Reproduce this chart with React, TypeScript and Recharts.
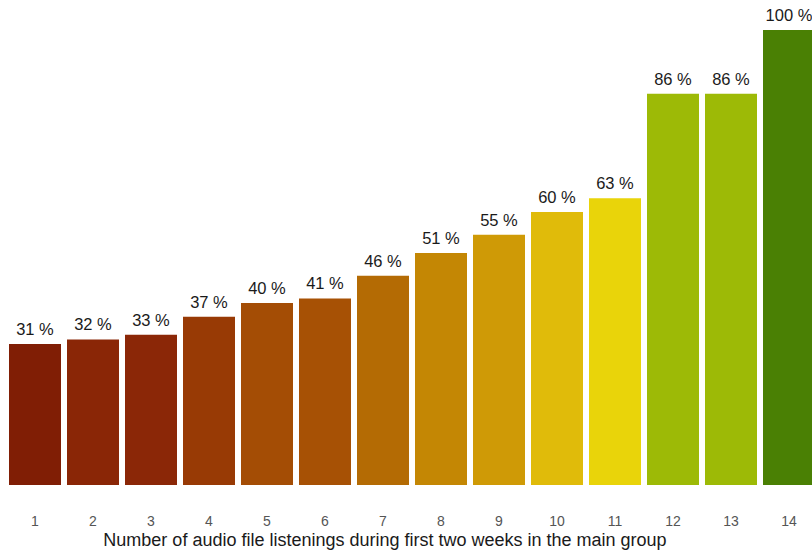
import React from 'react';
import { BarChart, Bar, XAxis, YAxis, Cell, LabelList, Label } from 'recharts';

const categories = ['1', '2', '3', '4', '5', '6', '7', '8', '9', '10', '11', '12', '13', '14'];
const values = [31, 32, 33, 37, 40, 41, 46, 51, 55, 60, 63, 86, 86, 100];
const colors = ['#801e05', '#8a2606', '#8b2707', '#983a05', '#a44d05', '#a75105', '#b46b04', '#c48704', '#cf9a06', '#e0bb0a', '#e9d40a', '#9dba06', '#9dba06', '#4a8004'];
const axisTitle = 'Number of audio file listenings during first two weeks in the main group';

const data = categories.map((c, i) => ({ name: c, value: values[i] }));

const Tick = (p: any) => (
  <text x={p.x} y={p.y + 33} textAnchor="middle" fill="#555" fontSize={14} fontFamily="'Liberation Sans', Arial, sans-serif">
    {p.payload.value}
  </text>
);

export default function App() {
  return (
    <div style={{ position: 'fixed', left: 0, top: 0, width: 812, height: 554, overflow: 'hidden', background: '#fff' }}>
      <BarChart width={818} height={554} data={data} margin={{ top: 30, right: 0, left: 6, bottom: 0 }} barCategoryGap={3}>
        <YAxis hide domain={[0, 100]} />
        <XAxis dataKey="name" height={69} axisLine={false} tickLine={false} tick={<Tick />} interval={0}>
          <Label value={axisTitle} position="insideBottom" offset={8} dx={-27} fill="#1a1a1a" fontSize={18} fontFamily="'Liberation Sans', Arial, sans-serif" />
        </XAxis>
        <Bar dataKey="value" isAnimationActive={false}>
          {data.map((d, i) => (
            <Cell key={d.name} fill={colors[i]} />
          ))}
          <LabelList dataKey="value" position="top" offset={9} formatter={(v: any) => `${v} %`} fill="#1a1a1a" fontSize={16.5} fontFamily="'Liberation Sans', Arial, sans-serif" />
        </Bar>
      </BarChart>
    </div>
  );
}
